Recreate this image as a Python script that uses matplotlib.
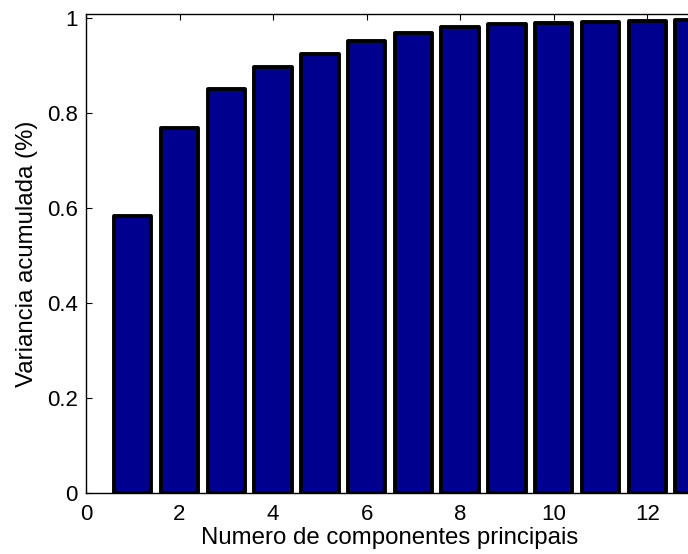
import matplotlib
matplotlib.use("Agg")
import matplotlib.pyplot as plt
import numpy as np

components = list(range(1, 14))
cum_variance = [0.583, 0.770, 0.852, 0.897, 0.925, 0.952, 0.970,
                0.982, 0.987, 0.991, 0.993, 0.994, 0.996]
x_ticks = [0, 2, 4, 6, 8, 10, 12]
y_ticks = [0, 0.2, 0.4, 0.6, 0.8, 1]
y_ticklabels = ["0", "0.2", "0.4", "0.6", "0.8", "1"]

plt.rcParams['font.family'] = ['Liberation Sans', 'DejaVu Sans']

fig = plt.figure(figsize=(6.88, 5.54), dpi=100)
ax = fig.add_axes([86/688, 60.7/554, 608/688, 479.3/554])

ax.bar(components, cum_variance, width=0.8, color='#00008F',
       edgecolor='black', linewidth=2.8, joinstyle='round', zorder=2)

ax.set_xlim(0, 13)
ax.set_ylim(0, 1.009)
ax.set_xticks(x_ticks)
ax.set_yticks(y_ticks)
ax.set_yticklabels(y_ticklabels)
ax.tick_params(direction='in', length=4, width=0.8, top=True, right=True,
               labelsize=16)
ax.tick_params(axis='y', pad=6)
ax.tick_params(axis='x', pad=8)
for s in ax.spines.values():
    s.set_linewidth(1.0)
    s.set_zorder(3)

ax.set_xlabel('Numero de componentes principais', fontsize=17.3, labelpad=1.5)
ax.set_ylabel('Variancia acumulada (%)', fontsize=17.3, labelpad=6)

fig.savefig('out.png', dpi=100)
